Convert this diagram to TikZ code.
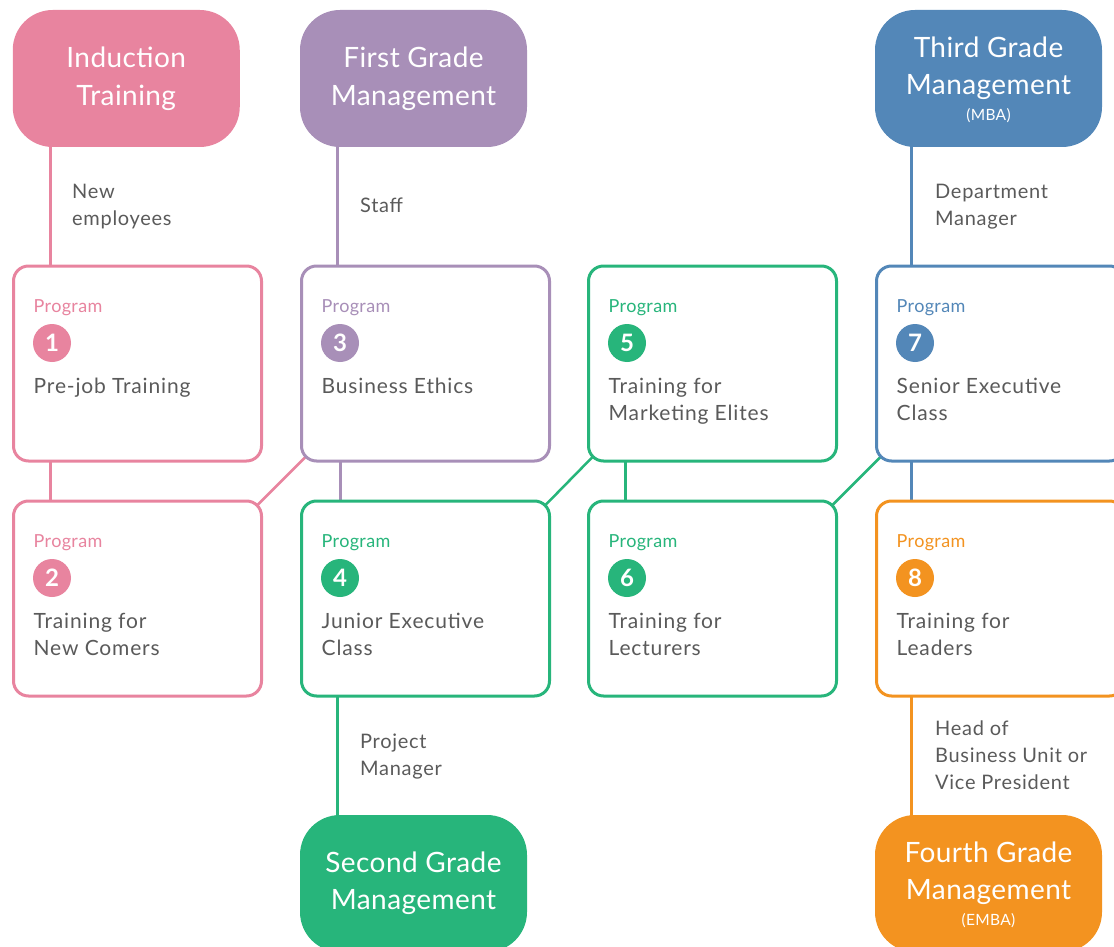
\documentclass[tikz,border=0pt]{standalone}
\usepackage{fontspec}
\setmainfont{Lato}
\newfontfamily\wideA[LetterSpace=1.5]{Lato}
\newfontfamily\wideB[LetterSpace=2]{Lato}
\newfontfamily\wideC[LetterSpace=4]{Lato}
\newfontfamily\wideD[LetterSpace=3.5]{Lato}
\usetikzlibrary{calc,backgrounds}

\definecolor{cpink}{HTML}{E8849F}
\definecolor{cpurple}{HTML}{A88FB8}
\definecolor{cblue}{HTML}{5387B8}
\definecolor{cgreen}{HTML}{27B57B}
\definecolor{corange}{HTML}{F39320}
\definecolor{cgray}{HTML}{5A5A5A}

\tikzset{
  bigbox/.style={rounded corners=40pt, minimum width=227pt, minimum height=137pt,
                 inner sep=0pt, outer sep=0pt},
  bigtext/.style={text=white, font=\wideA\fontsize{28}{33}\selectfont, inner sep=0pt, anchor=base},
  smalltext/.style={text=white, font=\wideB\fontsize{15.5}{18}\selectfont, inner sep=0pt, anchor=base},
  progbox/.style={draw, line width=3pt, fill=white, rounded corners=15pt,
                  minimum width=248pt, minimum height=195pt, inner sep=0pt,
                  outer sep=0pt, anchor=north west},
  progtag/.style={font=\wideB\fontsize{18}{22}\selectfont, inner sep=0pt, anchor=base west},
  numdot/.style={circle, minimum size=38pt, inner sep=0pt, text=white,
                 font=\bfseries\fontsize{24}{28}\selectfont},
  ptitle/.style={text=cgray, font=\wideC\fontsize{21}{25}\selectfont, inner sep=0pt, anchor=base west},
  lbl/.style={text=cgray, font=\wideD\fontsize{20}{24}\selectfont, inner sep=0pt, anchor=base west},
  conn/.style={line width=3pt},
  diag/.style={line width=2.5pt},
}

% program card: name, left x, top y, colour, number, title line 1, title line 2
\newcommand\progcard[7]{%
  \node[progbox, draw=#4] (#1) at (#2,#3) {};
  \node[progtag, text=#4] (#1tag) at ($(#1.north west)+(20pt,-46pt)$) {Program};
  \node[numdot, fill=#4] (#1num) at ($(#1.north west)+(38.5pt,-77pt)$) {#5};
  \node[ptitle] (#1ta) at ($(#1.north west)+(20pt,-127pt)$) {#6};
  \if\relax\detokenize{#7}\relax\else
    \node[ptitle] (#1tb) at ($(#1.north west)+(20pt,-154pt)$) {#7};
  \fi
}

\begin{document}
\begin{tikzpicture}[x=1pt,y=-1pt]
  \useasboundingbox (0,0) rectangle (1114,947);

  % grade boxes
  \node[bigbox, fill=cpink]   (ind)    at (126.25,78.5) {};
  \node[bigbox, fill=cpurple] (first)  at (413.5,78.5) {};
  \node[bigbox, fill=cblue]   (third)  at (988.5,78.5) {};
  \node[bigbox, fill=cgreen]  (second) at (413.5,883.5) {};
  \node[bigbox, fill=corange] (fourth) at (988.5,883.5) {};

  \node[bigtext] (indA) at (126.25,68) {Induction};
  \node[bigtext] (indB) at (126.25,106) {Training};
  \node[bigtext] (firstA) at (413.5,68) {First Grade};
  \node[bigtext] (firstB) at (413.5,106) {Management};
  \node[bigtext] (thirdA) at (988.5,58) {Third Grade};
  \node[bigtext] (thirdB) at (988.5,95) {Management};
  \node[smalltext] (thirdC) at (988.5,121) {(MBA)};
  \node[bigtext] (secondA) at (413.5,872) {Second Grade};
  \node[bigtext] (secondB) at (413.5,909) {Management};
  \node[bigtext] (fourthA) at (988.5,862) {Fourth Grade};
  \node[bigtext] (fourthB) at (988.5,899) {Management};
  \node[smalltext] (fourthC) at (988.5,925) {(EMBA)};

  % program cards
  \progcard{p1}{13.5}{266}{cpink}{1}{Pre-job Training}{}
  \progcard{p3}{301.5}{266}{cpurple}{3}{Business Ethics}{}
  \progcard{p5}{588.5}{266}{cgreen}{5}{Training for}{Marketing Elites}
  \progcard{p7}{876.5}{266}{cblue}{7}{Senior Executive}{Class}
  \progcard{p2}{13.5}{501}{cpink}{2}{Training for}{New Comers}
  \progcard{p4}{301.5}{501}{cgreen}{4}{Junior Executive}{Class}
  \progcard{p6}{588.5}{501}{cgreen}{6}{Training for}{Lecturers}
  \progcard{p8}{876.5}{501}{corange}{8}{Training for}{Leaders}

  % connector labels
  \node[lbl] (lnewA) at (72,198) {New};
  \node[lbl] (lnewB) at (72,225) {employees};
  \node[lbl] (lstaff) at (360,212) {Staff};
  \node[lbl] (ldepA) at (935,198) {Department};
  \node[lbl] (ldepB) at (935,225) {Manager};
  \node[lbl] (lprojA) at (360,748) {Project};
  \node[lbl] (lprojB) at (360,775) {Manager};
  \node[lbl] (lheadA) at (935,735) {Head of};
  \node[lbl] (lheadB) at (935,762) {Business Unit or};
  \node[lbl] (lheadC) at (935,789) {Vice President};

  % connectors, kept behind the boxes
  \begin{pgfonlayer}{background}
    \draw[conn, cpink]   (ind.center -| 50,0)   -- (p1.north -| 50,0);
    \draw[conn, cpurple] (first.center -| 337,0) -- (p3.north -| 337,0);
    \draw[conn, cblue]   (third.center -| 911,0) -- (p7.north -| 911,0);

    \draw[conn, cpink]   (p1.south -| 50,0)  -- (p2.north -| 50,0);
    \draw[conn, cpurple] (p3.south -| 340,0) -- (p4.north -| 340,0);
    \draw[conn, cgreen]  (p5.south -| 625,0) -- (p6.north -| 625,0);
    \draw[conn, cblue]   (p7.south -| 911,0) -- (p8.north -| 911,0);

    \draw[conn, cgreen]  (p4.south -| 337,0) -- (second.center -| 337,0);
    \draw[conn, corange] (p8.south -| 911,0) -- (fourth.center -| 911,0);

    \draw[diag, cpink]  ($(p3.south west)+(4.4pt,4.4pt)$) -- ($(p2.north east)+(-4.4pt,-4.4pt)$);
    \draw[diag, cgreen] ($(p5.south west)+(4.4pt,4.4pt)$) -- ($(p4.north east)+(-4.4pt,-4.4pt)$);
    \draw[diag, cgreen] ($(p7.south west)+(4.4pt,4.4pt)$) -- ($(p6.north east)+(-4.4pt,-4.4pt)$);
  \end{pgfonlayer}
\end{tikzpicture}
\end{document}
